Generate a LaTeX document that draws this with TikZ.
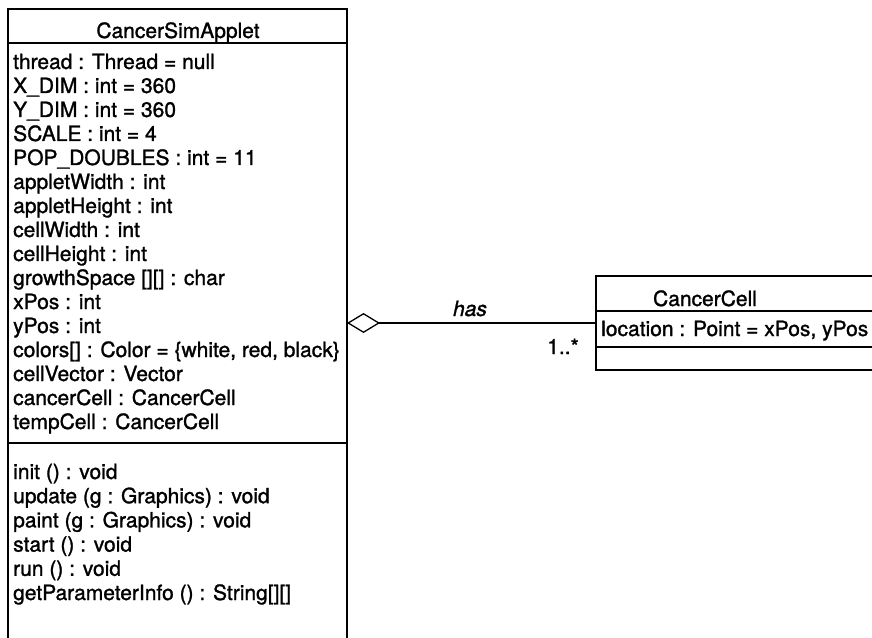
\documentclass[tikz,border=0pt]{standalone}
\usepackage{fontspec}
\setmainfont{TeX Gyre Heros}[RawFeature={embolden=1.3}]
\usetikzlibrary{arrows.meta}
\begin{document}
\begin{tikzpicture}[x=1bp,y=-1bp,
  boxline/.style={line width=1.5bp, draw=black},
  txt/.style={inner sep=0pt, anchor=base west, font=\fontsize{21bp}{24bp}\selectfont},
  ttl/.style={inner sep=0pt, anchor=base, font=\fontsize{21bp}{24bp}\selectfont},
  lbl/.style={inner sep=0pt, font=\fontsize{21bp}{24bp}\selectfont}]
\useasboundingbox (0,0) rectangle (872,638);
% CancerSimApplet class (open at the bottom)
\coordinate (appTL) at (8,9);
\coordinate (appTR) at (347,9);
\coordinate (appBL) at (8,638);
\coordinate (appBR) at (347,638);
\draw[boxline] (appBL) -- (appTL) -- (appTR) -- (appBR);
\draw[boxline] (8,43) -- (347,43);
\draw[boxline] (8,443) -- (347,443);
\node[ttl] (appTitle) at (178,38) {CancerSimApplet};
\foreach [count=\i] \t in {thread : Thread = null, X\_DIM : int = 360, Y\_DIM : int = 360, SCALE : int = 4, POP\_DOUBLES : int = 11, appletWidth : int, appletHeight : int, cellWidth : int, cellHeight : int, growthSpace [][] : char, xPos : int, yPos : int, {colors[] : Color = \{white, red, black\}}, cellVector : Vector, cancerCell : CancerCell, tempCell : CancerCell}
  \node[txt] (attr\i) at (13,{69+24*(\i-1)}) {\t};
\foreach [count=\i] \t in {init () : void, update (g : Graphics) : void, paint (g : Graphics) : void, start () : void, run () : void, getParameterInfo () : String[][]}
  \node[txt] (op\i) at (13,{479+24.2*(\i-1)}) {\t};
% CancerCell class (cut at the right edge)
\draw[boxline] (872,276) -- (596,276) -- (596,370) -- (872,370);
\draw[boxline] (596,311) -- (872,311);
\draw[boxline] (596,347) -- (872,347);
\node[ttl] (cellTitle) at (705,306) {CancerCell};
\node[txt] (cellAttr) at (601,336) {location : Point = xPos, yPos};
% aggregation
\coordinate (aggApp) at (347,323);
\coordinate (aggCell) at (596,323);
\draw[line width=1.3bp, {Diamond[open, length=33bp, width=20bp, line width=1.3bp]}-] (aggApp) -- (aggCell);
\node[lbl, anchor=base, font=\fontsize{21bp}{24bp}\selectfont\itshape] (has) at (470,316) {has};
\node[lbl, anchor=base east] (mult) at (579,354) {1..*};
\end{tikzpicture}
\end{document}
